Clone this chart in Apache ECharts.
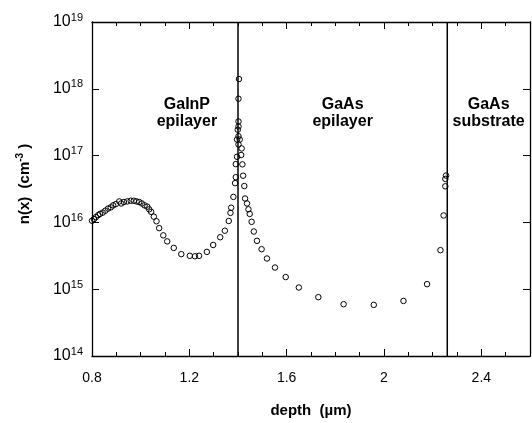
<!DOCTYPE html>
<html>
<head>
<meta charset="utf-8">
<script src="https://cdn.jsdelivr.net/npm/echarts@6/dist/echarts.min.js"></script>
<style>
html, body { margin: 0; padding: 0; background: #fff; }
#chart { width: 532px; height: 423px; }
</style>
</head>
<body>
<div id="chart"></div>
<script>
// depth in um, carrier density n(x) in cm^-3
var depth = [
	0.800, 0.808, 0.816, 0.825, 0.833, 0.844, 0.855, 0.866, 0.877, 0.887,
	0.898, 0.912, 0.920, 0.931, 0.945, 0.959, 0.972, 0.983, 0.994, 1.005,
	1.016, 1.027, 1.035, 1.043, 1.054, 1.065, 1.076, 1.093, 1.109, 1.136,
	1.167, 1.202, 1.223, 1.240, 1.272, 1.298, 1.327, 1.346, 1.362, 1.369,
	1.372, 1.381, 1.388, 1.391, 1.391, 1.396, 1.396, 1.399, 1.402, 1.402,
	1.402, 1.402, 1.402, 1.404, 1.407, 1.415, 1.413, 1.418, 1.421, 1.426,
	1.429, 1.437, 1.443, 1.448, 1.456, 1.465, 1.478, 1.497, 1.519, 1.552,
	1.596, 1.650, 1.730, 1.834, 1.958, 2.080, 2.177, 2.232, 2.245, 2.252,
	2.252, 2.255
];
var density = [
	1.06e16, 1.12e16, 1.20e16, 1.28e16, 1.34e16, 1.40e16, 1.50e16, 1.61e16, 1.68e16, 1.80e16,
	1.88e16, 2.06e16, 1.92e16, 2.02e16, 2.06e16, 2.11e16, 2.11e16, 2.06e16, 2.02e16, 1.92e16,
	1.80e16, 1.72e16, 1.57e16, 1.44e16, 1.22e16, 1.04e16, 8.2e15, 6.4e15, 5.2e15, 4.15e15,
	3.35e15, 3.16e15, 3.11e15, 3.16e15, 3.62e15, 4.59e15, 6.0e15, 7.5e15, 1.05e16, 1.39e16,
	1.66e16, 2.41e16, 3.87e16, 4.75e16, 7.45e16, 9.6e16, 1.74e17, 2.44e17, 1.47e17, 1.95e17,
	2.73e17, 3.24e17, 7.1e17, 1.40e18, 1.74e17, 1.28e17, 1.02e17, 7.4e16, 5.0e16, 3.50e16,
	2.28e16, 1.92e16, 1.57e16, 1.34e16, 1.02e16, 7.3e15, 5.3e15, 3.97e15, 2.88e15, 2.11e15,
	1.52e15, 1.06e15, 7.6e14, 5.96e14, 5.82e14, 6.67e14, 1.19e15, 3.84e15, 1.27e16, 3.47e16,
	4.48e16, 5.03e16
];
var interfaceDepth = [1.40, 2.26];
var layerNames = ['GaInP\nepilayer', 'GaAs\nepilayer', 'GaAs\nsubstrate'];
var layerX = [1.19, 1.83, 2.43];
var layerY = 4.3e17;
var xRange = [0.8, 2.6];
var yRange = [1e14, 1e19];

var FONT = '"Liberation Sans", Arial, Helvetica, sans-serif';

function xAxisDef(pos, interval, len, main) {
	return {
		type: 'value',
		position: pos,
		min: xRange[0],
		max: xRange[1],
		interval: interval,
		axisLine: { show: main, lineStyle: { color: '#000', width: 1.3 } },
		axisTick: { show: true, inside: true, length: len, lineStyle: { color: '#000', width: 1 } },
		axisLabel: { show: false },
		splitLine: { show: false }
	};
}

var xBottom = xAxisDef('bottom', 0.4, 7, true);
xBottom.axisLabel = {
	show: true,
	showMaxLabel: false,
	margin: 15,
	color: '#000',
	fontFamily: FONT,
	fontSize: 14
};
xBottom.name = 'depth  (\u00b5m)';
xBottom.nameLocation = 'middle';
xBottom.nameGap = 47;
xBottom.nameTextStyle = { color: '#000', fontFamily: FONT, fontWeight: 'bold', fontSize: 15 };

function yAxisDef(pos) {
	return {
		type: 'log',
		logBase: 10,
		position: pos,
		min: yRange[0],
		max: yRange[1],
		axisLine: { show: true, lineStyle: { color: '#000', width: 1.3 } },
		axisTick: { show: true, inside: true, length: 7, lineStyle: { color: '#000' } },
		axisLabel: { show: false },
		splitLine: { show: false },
		minorTick: { show: false }
	};
}

var yLeft = yAxisDef('left');
yLeft.axisLabel = {
	show: true,
	margin: 9,
	color: '#000',
	fontFamily: FONT,
	formatter: function(v) {
		return '{b|10}{s|' + Math.round(Math.log10(v)) + '}';
	},
	rich: {
		b: { fontSize: 16, lineHeight: 20, fontFamily: FONT, color: '#000' },
		s: { fontSize: 11, verticalAlign: 'top', fontFamily: FONT, color: '#000' }
	}
};
yLeft.name = '{n|n(x)  (cm}{s|-3}{n| )}';
yLeft.nameLocation = 'middle';
yLeft.nameGap = 57;
yLeft.nameTextStyle = {
	padding: [0, 0, 0, 10],
	rich: {
		n: { fontSize: 15, lineHeight: 20, fontWeight: 'bold', fontFamily: FONT, color: '#000' },
		s: { fontSize: 10, verticalAlign: 'top', fontWeight: 'bold', fontFamily: FONT, color: '#000' }
	}
};

var series = [];
interfaceDepth.forEach(function(d) {
	series.push({
		type: 'line',
		xAxisIndex: 0,
		yAxisIndex: 0,
		data: [[d, yRange[0]], [d, yRange[1]]],
		showSymbol: false,
		symbol: 'none',
		silent: true,
		lineStyle: { color: '#000', width: 1.5 },
		z: 2
	});
});
series.push({
	type: 'scatter',
	xAxisIndex: 0,
	yAxisIndex: 0,
	symbol: 'circle',
	symbolSize: 5.5,
	itemStyle: { color: 'rgba(255,255,255,0)', borderColor: '#000', borderWidth: 1, opacity: 1 },
	data: depth.map(function(d, i) { return [d, density[i]]; }),
	z: 3
});
series.push({
	type: 'scatter',
	xAxisIndex: 0,
	yAxisIndex: 0,
	symbolSize: 0,
	silent: true,
	itemStyle: { opacity: 1 },
	data: layerNames.map(function(n, i) { return { name: n, value: [layerX[i], layerY] }; }),
	label: {
		show: true,
		position: 'inside',
		formatter: '{b}',
		color: '#000',
		opacity: 1,
		fontFamily: FONT,
		fontWeight: 'bold',
		fontSize: 16,
		lineHeight: 17,
		align: 'center'
	},
	z: 4
});

var chart = echarts.init(document.getElementById('chart'));
chart.setOption({
	backgroundColor: '#fff',
	animation: false,
	grid: { left: 92, right: 2, top: 22, bottom: 61 },
	xAxis: [
		xBottom,
		xAxisDef('bottom', 0.1, 4, false),
		xAxisDef('top', 0.4, 7, true),
		xAxisDef('top', 0.1, 4, false)
	],
	yAxis: [yLeft, yAxisDef('right')],
	series: series
});
</script>
</body>
</html>
